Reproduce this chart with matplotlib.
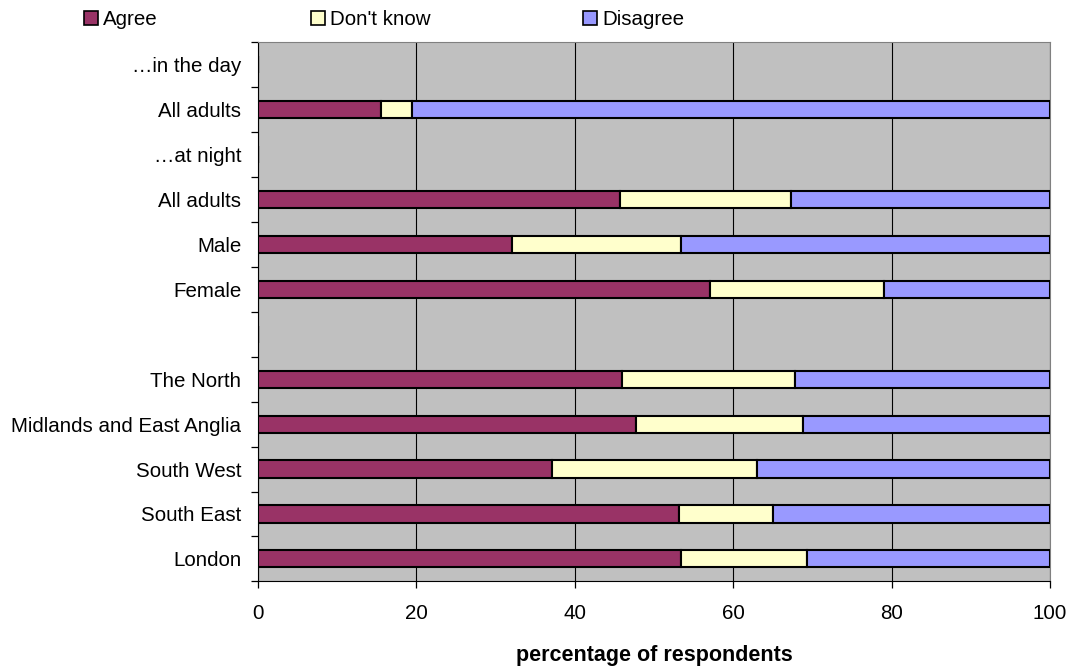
import matplotlib

matplotlib.use("Agg")
import matplotlib.pyplot as plt
import numpy as np
from matplotlib.patches import Patch

plt.rcParams["font.family"] = ["Liberation Sans", "DejaVu Sans"]

categories = [
    "\u2026in the day",
    "All adults",
    "\u2026at night",
    "All adults",
    "Male",
    "Female",
    "",
    "The North",
    "Midlands and East Anglia",
    "South West",
    "South East",
    "London",
]
# nan marks heading / spacer rows with no bar
agree = [np.nan, 15.5, np.nan, 45.7, 32.1, 57.1, np.nan, 46.0, 47.7, 37.1, 53.2, 53.4]
dont_know = [np.nan, 3.9, np.nan, 21.6, 21.3, 21.9, np.nan, 21.8, 21.1, 25.9, 11.8, 15.9]
disagree = [np.nan, 80.6, np.nan, 32.7, 46.6, 21.0, np.nan, 32.2, 31.2, 37.0, 35.0, 30.7]

series = [
    ("Agree", agree, "#993366"),
    ("Don't know", dont_know, "#FFFFCC"),
    ("Disagree", disagree, "#9999FF"),
]

LABEL_SIZE = 14.8

fig = plt.figure(figsize=(10.73, 6.66), dpi=100)
ax = fig.add_axes([0.2405, 0.127, 0.738, 0.81])
ax.set_facecolor("#C0C0C0")

y = np.arange(len(categories))
left = np.zeros(len(categories))
for name, vals, color in series:
    vals = np.nan_to_num(np.asarray(vals, dtype=float))
    ax.barh(y, vals, left=left, height=0.38, color=color,
            edgecolor="black", linewidth=1.5, zorder=3)
    left = left + vals

ax.set_xlim(0, 100)
ax.set_ylim(len(categories) - 0.5, -0.5)
ax.set_xticks(np.arange(0, 101, 20))
ax.xaxis.grid(True, color="black", linewidth=0.8)
ax.set_axisbelow(True)

ax.set_yticks(y)
ax.set_yticklabels(categories, fontsize=LABEL_SIZE)
ax.set_yticks(np.arange(-0.5, len(categories), 1.0), minor=True)
ax.tick_params(axis="y", which="major", length=0, pad=12)
ax.tick_params(axis="y", which="minor", length=5, width=0.9, direction="out")
ax.tick_params(axis="x", labelsize=LABEL_SIZE, length=5, width=0.9, direction="out", pad=11)

for side in ("top", "right"):
    ax.spines[side].set_color("#808080")
for side in ("left", "bottom"):
    ax.spines[side].set_color("black")

ax.set_xlabel("percentage of respondents", fontsize=15.5, fontweight="bold", labelpad=16)

legend_x = [0.0705, 0.282, 0.5356]
for (name, vals, color), lx in zip(series, legend_x):
    fig.legend(handles=[Patch(facecolor=color, edgecolor="black", linewidth=1.2)],
               labels=[name], loc="center left", bbox_to_anchor=(lx, 0.970),
               frameon=False, fontsize=LABEL_SIZE, handlelength=0.7, handleheight=0.7,
               handletextpad=0.25, borderaxespad=0)

fig.savefig("out.png", dpi=100)
plt.close(fig)
